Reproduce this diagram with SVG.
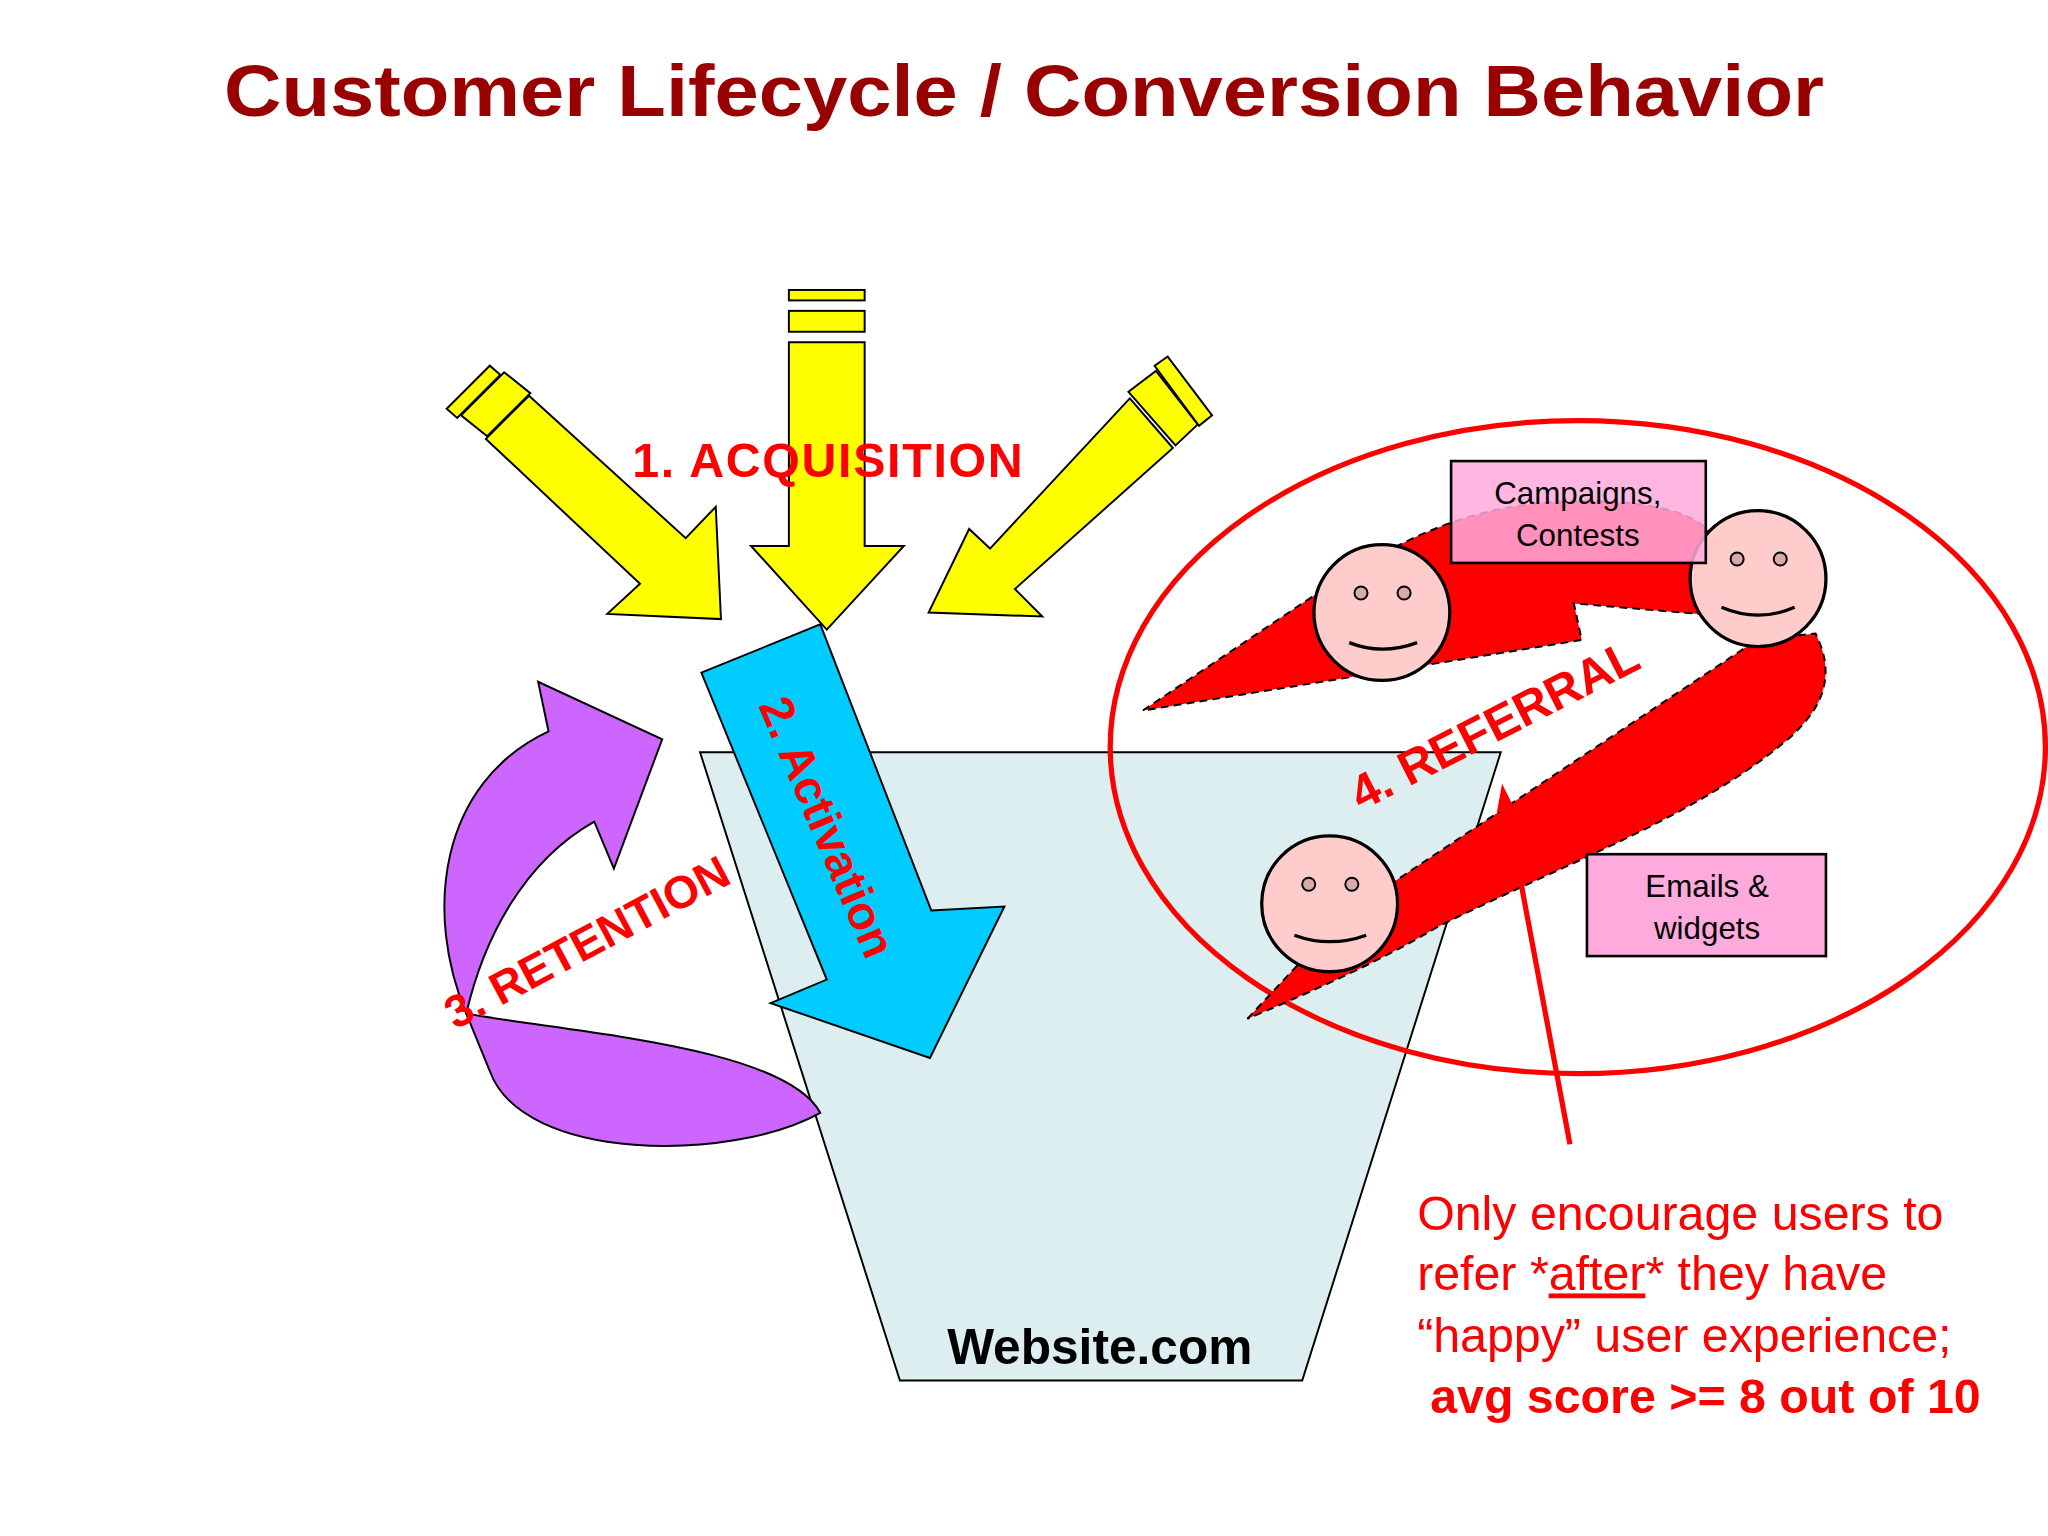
<svg xmlns="http://www.w3.org/2000/svg" width="2048" height="1536" viewBox="0 0 2048 1536">
<style>
.lbl{font-family:"Liberation Sans",Arial,sans-serif;font-weight:bold;fill:#FF0000}
.yel{fill:#FFFF00;stroke:#000;stroke-width:1.5}
.face{fill:#FFCCCC;stroke:#000;stroke-width:2.5}
.eye{fill:#D9AAAA;stroke:#000;stroke-width:1.5}
.smile{fill:none;stroke:#000;stroke-width:2.5}
.ref{fill:#FF0000;stroke:#000;stroke-width:1.5;stroke-dasharray:6 4}
.box{fill:#FFAADD;stroke:#000;stroke-width:2}
.bt{font-family:"Liberation Sans",Arial,sans-serif;font-size:24px;fill:#000;text-anchor:middle}
.note{font-family:"Liberation Sans",Arial,sans-serif;font-size:37px;fill:#FF0000}
</style>
<rect width="2048" height="1536" fill="#fff"/>
<g transform="scale(1.30612)">
<text x="784" y="89" text-anchor="middle" font-family="Liberation Sans,Arial,sans-serif" font-weight="bold" font-size="56" fill="#990000" textLength="1225" lengthAdjust="spacingAndGlyphs">Customer Lifecycle / Conversion Behavior</text>

<g id="bucket">
<polygon points="536,576 1149,576 997,1057 689,1057" fill="#DDEEF1" stroke="#000" stroke-width="1.5"/>
<text x="842" y="1044" text-anchor="middle" font-family="Liberation Sans,Arial,sans-serif" font-weight="bold" font-size="38" fill="#000">Website.com</text>
</g>

<g id="acquisition">
<polygon class="yel" points="604,262 662,262 662,418 692,418 633,482 575,418 604,418"/>
<rect class="yel" x="604" y="238" width="58" height="16"/>
<rect class="yel" x="604" y="222" width="58" height="8"/>
<polygon class="yel" points="405,303 525,412 548,388 552,474 465,470 490,447 372,336"/>
<polygon class="yel" points="353,318 386,285 406,301 373,334"/>
<polygon class="yel" points="342,313 375,280 383,287 350,320"/>
<polygon class="yel" points="865,305 898,343 777,451 798,472 711,469 742,405 758,420"/>
<polygon class="yel" points="864,300 885,284 917,325 900,341"/>
<polygon class="yel" points="884,280 894,273 928,318 918,326"/>
<text class="lbl" x="484" y="365" font-size="37" textLength="299">1. ACQUISITION</text>
</g>

<g id="activation">
<polygon points="537,515 628,478 713,697 769,694 712,810 590,768 633,750" fill="#00CCFF" stroke="#000" stroke-width="1.5"/>
<text class="lbl" font-size="36" text-anchor="middle" transform="translate(622,638) rotate(67)">2. Activation</text>
</g>

<g id="retention">
<path d="M357,776 C325,700 335,600 420,560 L412,522 L507,566 L470,665 L455,629 C400,660 370,720 357,776 Z" fill="#CC66FF" stroke="#000" stroke-width="1.5"/>
<path d="M357,776 C430,790 600,800 628,852 C560,890 400,890 375,820 Z" fill="#CC66FF" stroke="#000" stroke-width="1.5"/>
<text class="lbl" font-size="35" text-anchor="middle" transform="translate(455,732) rotate(-28)">3. RETENTION</text>
</g>

<g id="referral">
<ellipse cx="1208" cy="572" rx="358" ry="250" fill="none" stroke="#FF0000" stroke-width="4"/>
<path class="ref" d="M875,544 L1000,460 C1060,420 1110,392 1180,385 C1250,380 1300,390 1310,410 L1300,470 L1205,462 L1211,490 Z"/>
<path class="ref" d="M955,780 L1030,700 L1345,490 L1390,485 C1405,515 1398,540 1370,565 C1300,625 1200,660 1100,710 C1050,740 990,765 955,780 Z"/>
<text class="lbl" font-size="37" text-anchor="middle" transform="translate(1150,566) rotate(-27)">4. REFERRAL</text>
</g>

<g id="face1"><circle class="face" cx="1058" cy="469" r="52"/><circle class="eye" cx="1042" cy="454" r="5"/><circle class="eye" cx="1075" cy="454" r="5"/><path class="smile" d="M1033,492 Q1058,502 1085,492"/></g>
<g id="face2"><circle class="face" cx="1346" cy="443" r="52"/><circle class="eye" cx="1330" cy="428" r="5"/><circle class="eye" cx="1363" cy="428" r="5"/><path class="smile" d="M1318,465 Q1346,477 1374,465"/></g>
<g id="face3"><circle class="face" cx="1018" cy="692" r="52"/><circle class="eye" cx="1002" cy="677" r="5"/><circle class="eye" cx="1035" cy="677" r="5"/><path class="smile" d="M991,716 Q1018,726 1046,716"/></g>

<g id="campaigns"><rect class="box" x="1111" y="353" width="195" height="78" fill-opacity="0.85"/><text class="bt" x="1208" y="386">Campaigns,</text><text class="bt" x="1208" y="418">Contests</text></g>
<g id="emails"><rect class="box" x="1215" y="654" width="183" height="78"/><text class="bt" x="1307" y="687">Emails &amp;</text><text class="bt" x="1307" y="719">widgets</text></g>

<g id="connectors">
<line x1="1202" y1="876" x2="1154" y2="620" stroke="#FF0000" stroke-width="4"/>
<polygon points="1150,600 1146,622 1160,620" fill="#FF0000"/>
</g>

<g id="note">
<text class="note" x="1085" y="942">Only encourage users to</text>
<text class="note" x="1085" y="988">refer *<tspan text-decoration="underline">after</tspan>* they have</text>
<text class="note" x="1085" y="1035">“happy” user experience;</text>
<text class="note" x="1095" y="1082" font-weight="bold" font-size="39">avg score &gt;= 8 out of 10</text>
</g>
</g>
</svg>
